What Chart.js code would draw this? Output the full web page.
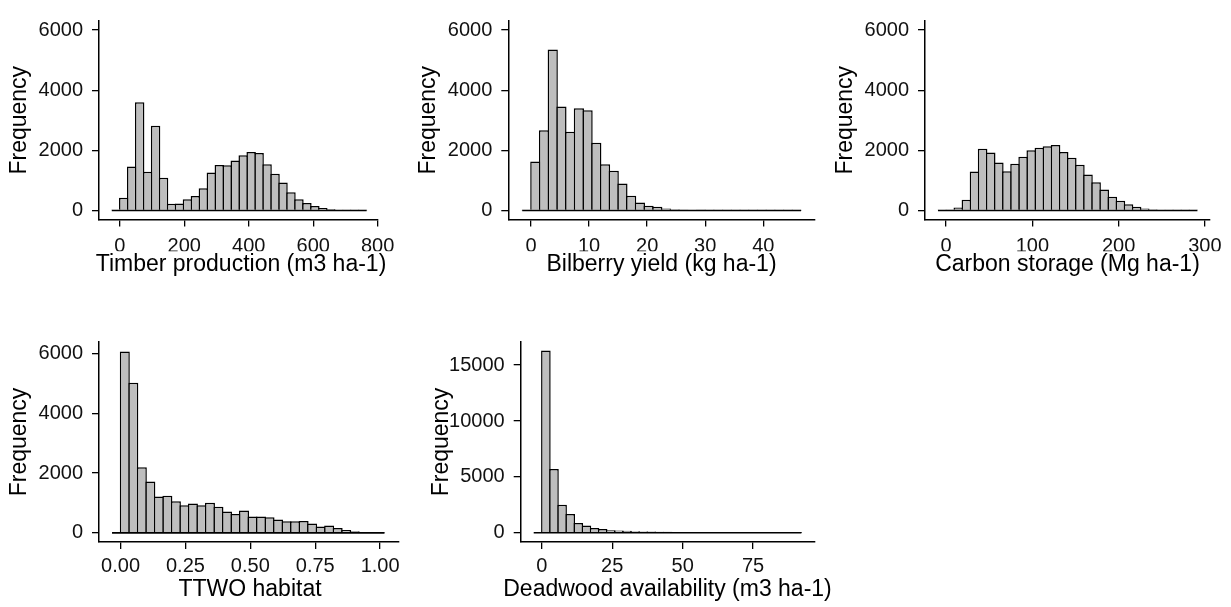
<!DOCTYPE html>
<html>
<head>
<meta charset="utf-8">
<script src="https://cdn.jsdelivr.net/npm/chart.js@4.4.1/dist/chart.umd.min.js"></script>
<style>
html,body{margin:0;padding:0;background:#fff;overflow:hidden;width:1231px;height:607px;}
#root{position:relative;width:1231px;height:607px;overflow:hidden;}
canvas{position:absolute;}
</style>
</head>
<body>
<div id="root"></div>
<script>
// ---------------- DATA ----------------
// Timber production (m3 ha-1)
const timberBinStarts = [-24.7, 0, 24.7, 49.4, 74.1, 98.8, 123.5, 148.2, 172.9, 197.6, 222.3, 247, 271.7, 296.4, 321.1, 345.8, 370.5, 395.2, 419.9, 444.6, 469.3, 494, 518.7, 543.4, 568.1, 592.8, 617.5, 642.2, 666.9, 691.6, 716.3, 741];
const timberBinWidth = 24.7;
const timberCounts = [5, 420, 1465, 3600, 1290, 2820, 1090, 225, 235, 375, 480, 740, 1260, 1515, 1500, 1665, 1840, 1945, 1915, 1540, 1220, 930, 610, 375, 245, 150, 80, 45, 22, 12, 6, 3];

// Bilberry yield (kg ha-1)
const bilberryBinStarts = [-1.5, 0, 1.5, 3, 4.5, 6, 7.5, 9, 10.5, 12, 13.5, 15, 16.5, 18, 19.5, 21, 22.5, 24, 25.5, 27, 28.5, 30, 31.5, 33, 34.5, 36, 37.5, 39, 40.5, 42, 43.5, 45];
const bilberryBinWidth = 1.5;
const bilberryCounts = [3, 1630, 2665, 5350, 3455, 2615, 3400, 3335, 2255, 1540, 1320, 895, 490, 265, 160, 128, 65, 40, 30, 25, 20, 15, 10, 8, 6, 5, 5, 8, 5, 3, 4, 2];

// Carbon storage (Mg ha-1)
const carbonBinStarts = [-9.4, 0, 9.4, 18.8, 28.2, 37.6, 47, 56.4, 65.8, 75.2, 84.6, 94, 103.4, 112.8, 122.2, 131.6, 141, 150.4, 159.8, 169.2, 178.6, 188, 197.4, 206.8, 216.2, 225.6, 235, 244.4, 253.8, 263.2, 272.6, 282];
const carbonBinWidth = 9.4;
const carbonCounts = [5, 20, 100, 360, 1300, 2050, 1925, 1595, 1305, 1550, 1785, 2000, 2085, 2135, 2180, 1945, 1755, 1520, 1200, 935, 700, 455, 320, 210, 120, 65, 40, 25, 15, 10, 8, 5];

// TTWO habitat
const ttwoBinStarts = [-0.0328, 0, 0.0328, 0.0656, 0.0984, 0.1312, 0.164, 0.1968, 0.2296, 0.2624, 0.2952, 0.328, 0.3608, 0.3936, 0.4264, 0.4592, 0.492, 0.5248, 0.5576, 0.5904, 0.6232, 0.656, 0.6888, 0.7216, 0.7544, 0.7872, 0.82, 0.8528, 0.8856, 0.9184, 0.9512, 0.984];
const ttwoBinWidth = 0.0328;
const ttwoCounts = [0, 6060, 5020, 2190, 1720, 1215, 1245, 1055, 925, 980, 925, 1010, 870, 715, 630, 745, 545, 545, 520, 445, 385, 385, 395, 310, 215, 245, 160, 95, 55, 30, 10, 3];

// Deadwood availability (m3 ha-1)
const deadwoodBinStarts = [-2.88, 0, 2.88, 5.76, 8.64, 11.52, 14.4, 17.28, 20.16, 23.04, 25.92, 28.8, 31.68, 34.56, 37.44, 40.32, 43.2, 46.08, 48.96, 51.84, 54.72, 57.6, 60.48, 63.36, 66.24, 69.12, 72, 74.88, 77.76, 80.64, 83.52, 86.4, 89.28];
const deadwoodBinWidth = 2.88;
const deadwoodCounts = [0, 16300, 5700, 2500, 1680, 880, 650, 425, 340, 230, 200, 170, 140, 120, 100, 90, 80, 70, 60, 50, 45, 40, 35, 30, 25, 20, 18, 15, 12, 10, 8, 5, 3];

// Tick values and labels
const timberXTicks = [0, 200, 400, 600, 800];
const timberXLabels = ['0', '200', '400', '600', '800'];
const bilberryXTicks = [0, 10, 20, 30, 40];
const bilberryXLabels = ['0', '10', '20', '30', '40'];
const carbonXTicks = [0, 100, 200, 300];
const carbonXLabels = ['0', '100', '200', '300'];
const ttwoXTicks = [0, 0.25, 0.5, 0.75, 1];
const ttwoXLabels = ['0.00', '0.25', '0.50', '0.75', '1.00'];
const deadwoodXTicks = [0, 25, 50, 75];
const deadwoodXLabels = ['0', '25', '50', '75'];
const freqTicks = [0, 2000, 4000, 6000];
const freqLabels = ['0', '2000', '4000', '6000'];
const deadFreqTicks = [0, 5000, 10000, 15000];
const deadFreqLabels = ['0', '5000', '10000', '15000'];

const xTitles = ['Timber production (m3 ha-1)', 'Bilberry yield (kg ha-1)', 'Carbon storage (Mg ha-1)', 'TTWO habitat', 'Deadwood availability (m3 ha-1)'];
const yTitle = 'Frequency';

// ---------------- LAYOUT / STYLE ----------------
const FONT = "'Liberation Sans', Arial, Helvetica, sans-serif";
const TICK_SIZE = 20;
const TITLE_SIZE = 23;
const BAR_FILL = '#BEBEBE';
const INK = '#000000';
const BAR_LINE = 1.5;

const panels = [
  {starts: timberBinStarts, bw: timberBinWidth, counts: timberCounts, xTicks: timberXTicks, xLabels: timberXLabels, yTicks: freqTicks, yLabels: freqLabels, title: xTitles[0],
   xMin: -64.4, xMax: 801, yMin: -300, yMax: 6300, L: 99, R: 378, T: 10, B: 219.5, titleX: 241, titleY: 265, bottom: 290, xPad: 7.5},
  {starts: bilberryBinStarts, bw: bilberryBinWidth, counts: bilberryCounts, xTicks: bilberryXTicks, xLabels: bilberryXLabels, yTicks: freqTicks, yLabels: freqLabels, title: xTitles[1],
   xMin: -3.9, xMax: 48.9, yMin: -300, yMax: 6300, L: 508.3, R: 815, T: 10, B: 219.5, titleX: 661.7, titleY: 265, bottom: 290, xPad: 7.5},
  {starts: carbonBinStarts, bw: carbonBinWidth, counts: carbonCounts, xTicks: carbonXTicks, xLabels: carbonXLabels, yTicks: freqTicks, yLabels: freqLabels, title: xTitles[2],
   xMin: -24.5, xMax: 306, yMin: -300, yMax: 6300, L: 925, R: 1210, T: 10, B: 219.5, titleX: 1067.5, titleY: 265, bottom: 290, xPad: 7.5},
  {starts: ttwoBinStarts, bw: ttwoBinWidth, counts: ttwoCounts, xTicks: ttwoXTicks, xLabels: ttwoXLabels, yTicks: freqTicks, yLabels: freqLabels, title: xTitles[3],
   xMin: -0.083, xMax: 1.07, yMin: -305, yMax: 6380, L: 99, R: 398.3, T: 331.7, B: 542, titleX: 250, titleY: 589.5, bottom: 607, xPad: 5},
  {starts: deadwoodBinStarts, bw: deadwoodBinWidth, counts: deadwoodCounts, xTicks: deadwoodXTicks, xLabels: deadwoodXLabels, yTicks: deadFreqTicks, yLabels: deadFreqLabels, title: xTitles[4],
   xMin: -7.5, xMax: 97, yMin: -830, yMax: 17070, L: 520.7, R: 815, T: 331.7, B: 542, titleX: 667.7, titleY: 589.5, bottom: 607, xPad: 5}
];

const root = document.getElementById('root');

function makePanel(p) {
  const cl = Math.floor(p.L - 99);
  const axisW = p.L - cl;
  const W = Math.round(2 * (p.titleX - cl));
  const y2W = W - (p.R - cl);
  const ct = Math.floor(p.T - 10);
  const padTop = p.T - ct;
  const H = p.bottom - ct;
  const lh = TITLE_SIZE * 1.2;
  const padBottom = p.bottom - p.titleY - lh / 2;
  const xAxisH = p.titleY - lh / 2 - p.B;
  // widen each bar by one outline width so neighbouring outlines overlap into a single line
  const binPx = p.bw * (p.R - p.L) / (p.xMax - p.xMin);
  const barPct = 1 + BAR_LINE / binPx;

  const canvas = document.createElement('canvas');
  canvas.width = W; canvas.height = H;
  canvas.style.left = cl + 'px'; canvas.style.top = ct + 'px';
  canvas.style.width = W + 'px'; canvas.style.height = H + 'px';
  root.appendChild(canvas);

  const bars = p.starts.map((s, i) => ({x: s + p.bw / 2, y: p.counts[i]}));
  const lastEdge = p.starts[p.starts.length - 1] + p.bw;

  const tickFont = {family: FONT, size: TICK_SIZE, weight: 'normal'};
  const gridOpts = {display: true, drawOnChartArea: false, drawTicks: true, tickLength: 7, color: INK, lineWidth: 1.3, offset: false};
  const borderOpts = {display: true, color: INK, width: 1.5};

  new Chart(canvas, {
    type: 'bar',
    data: {
      datasets: [
        {type: 'line', data: [{x: p.starts[0], y: 0}, {x: lastEdge, y: 0}], borderColor: INK, borderWidth: 1.6,
         pointRadius: 0, borderCapStyle: 'butt', order: 0, fill: false, tension: 0},
        {type: 'bar', data: bars, backgroundColor: BAR_FILL, borderColor: INK, borderWidth: BAR_LINE,
         borderSkipped: 'start', barPercentage: barPct, categoryPercentage: 1, order: 1}
      ]
    },
    options: {
      responsive: false,
      animation: false,
      events: [],
      layout: {padding: {left: 0, right: 0, top: padTop, bottom: padBottom}},
      plugins: {
        legend: {display: false},
        tooltip: {enabled: false},
        title: {display: true, position: 'bottom', text: p.title, color: INK, padding: 0, fullSize: true,
                font: {family: FONT, size: TITLE_SIZE, weight: 'normal', lineHeight: 1.2}}
      },
      scales: {
        x: {
          type: 'linear', position: 'bottom', min: p.xMin, max: p.xMax, offset: false,
          afterBuildTicks: s => { s.ticks = p.xTicks.map(v => ({value: v})); },
          afterFit: s => { s.height = xAxisH; },
          ticks: {autoSkip: false, maxRotation: 0, minRotation: 0, padding: p.xPad, color: '#111', font: tickFont,
                  callback: (v, i) => p.xLabels[i]},
          grid: gridOpts,
          border: borderOpts,
          title: {display: false}
        },
        y: {
          type: 'linear', position: 'left', min: p.yMin, max: p.yMax,
          afterBuildTicks: s => { s.ticks = p.yTicks.map(v => ({value: v})); },
          afterFit: s => { s.width = axisW; },
          ticks: {padding: 9, color: '#111', font: tickFont, callback: (v, i) => p.yLabels[i]},
          grid: gridOpts,
          border: borderOpts,
          title: {display: true, text: yTitle, color: INK, font: {family: FONT, size: TITLE_SIZE, weight: 'normal', lineHeight: 1.2},
                  padding: {top: axisW - 79.4 - lh / 2, bottom: 0}}
        },
        y2: {
          type: 'linear', position: 'right', display: true,
          afterFit: s => { s.width = y2W; },
          ticks: {display: false},
          grid: {display: false},
          border: {display: false}
        }
      }
    }
  });
}

panels.forEach(makePanel);
</script>
</body>
</html>
